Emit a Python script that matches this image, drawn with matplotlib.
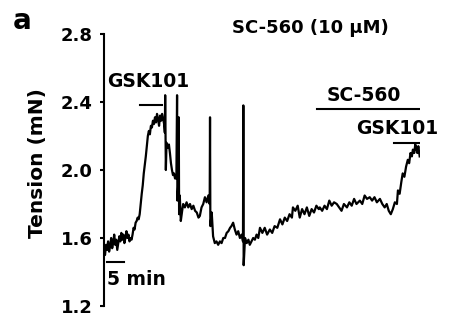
import matplotlib
matplotlib.use("Agg")
import matplotlib.pyplot as plt
import numpy as np

# time (min) and tension (mN)
time_min = [
    0.0, 0.3, 0.6, 0.9, 1.2, 1.5, 1.8, 2.1, 2.4, 2.7, 3.0, 3.3, 3.6, 3.9, 4.2,
    4.5, 4.8, 5.1, 5.4, 5.7, 6.0, 6.3, 6.6, 6.9, 7.2, 7.5, 7.8, 8.1, 8.4, 8.7,
    9.0, 9.3, 9.6, 9.9, 10.2, 10.5, 10.8, 11.1, 11.4, 11.7, 12.0, 12.3, 12.6,
    12.9, 13.2, 13.5, 13.8, 14.1, 14.4, 14.7, 15.0, 15.3, 15.6, 15.9, 16.2,
    16.5, 16.8, 17.1, 17.4, 17.7, 17.9, 18.0, 18.2, 18.4, 18.8, 19.1, 19.4,
    19.7, 20.0, 20.3, 20.6, 20.9, 21.3, 21.5, 21.6, 21.8, 22.0, 22.1, 22.3,
    22.6, 23.0, 23.3, 23.8, 24.3, 24.8, 25.3, 25.8, 26.3, 26.8, 27.3, 27.8,
    28.2, 28.7, 29.2, 29.7, 30.2, 30.7, 31.1, 31.2, 31.3, 31.7, 32.1, 32.6,
    33.1, 33.6, 34.1, 34.6, 35.1, 35.6, 36.1, 36.6, 37.1, 37.5, 38.0, 38.5,
    39.0, 39.5, 40.0, 40.5, 40.9, 41.0, 41.1, 41.5, 42.0, 42.5, 42.9, 43.4,
    43.9, 44.4, 44.9, 45.4, 45.9, 46.6, 47.3, 48.0, 48.8, 49.5, 50.2, 51.0,
    51.8, 52.5, 53.2, 53.9, 54.6, 55.3, 55.6, 56.3, 57.0, 57.6, 58.3, 59.0,
    59.7, 60.4, 61.1, 61.8, 62.5, 63.2, 63.5, 64.2, 64.9, 65.6, 66.3, 67.0,
    67.7, 68.5, 69.2, 69.9, 70.6, 71.5, 72.2, 72.9, 73.6, 74.3, 75.3, 76.0,
    76.7, 77.4, 78.2, 78.9, 79.6, 80.3, 81.2, 81.9, 82.6, 83.2, 83.8, 84.4,
    85.0, 85.6, 86.2, 86.5, 87.0, 87.5, 87.9, 88.4, 88.9, 89.4, 89.8, 90.2,
    90.6, 90.9, 91.3, 91.6, 91.9, 92.2, 92.5, 92.9,
]
tension_mN = [
    1.53, 1.50, 1.56, 1.53, 1.58, 1.52, 1.55, 1.60, 1.54, 1.57, 1.62, 1.56,
    1.59, 1.53, 1.57, 1.61, 1.58, 1.63, 1.59, 1.62, 1.57, 1.60, 1.64, 1.60,
    1.62, 1.58, 1.60, 1.59, 1.62, 1.66, 1.65, 1.69, 1.70, 1.72, 1.71, 1.74,
    1.80, 1.86, 1.91, 1.98, 2.03, 2.08, 2.14, 2.20, 2.23, 2.21, 2.26, 2.25,
    2.29, 2.27, 2.31, 2.28, 2.33, 2.30, 2.26, 2.32, 2.29, 2.33, 2.30, 2.27,
    2.22, 2.44, 2.00, 2.16, 2.13, 2.15, 2.10, 2.04, 2.00, 1.97, 1.98, 1.95,
    1.95, 2.44, 1.82, 1.90, 2.31, 1.74, 1.85, 1.70, 1.76, 1.80, 1.78, 1.81,
    1.78, 1.80, 1.77, 1.79, 1.76, 1.75, 1.72, 1.73, 1.78, 1.80, 1.84, 1.81,
    1.85, 1.80, 2.31, 1.67, 1.75, 1.61, 1.57, 1.58, 1.56, 1.58, 1.57, 1.60,
    1.60, 1.63, 1.64, 1.66, 1.67, 1.69, 1.65, 1.62, 1.64, 1.60, 1.62, 1.58,
    2.38, 1.44, 1.60, 1.57, 1.59, 1.56, 1.58, 1.60, 1.59, 1.62, 1.60, 1.66,
    1.63, 1.66, 1.62, 1.65, 1.63, 1.67, 1.66, 1.71, 1.68, 1.72, 1.70, 1.74,
    1.72, 1.78, 1.76, 1.79, 1.72, 1.77, 1.74, 1.78, 1.73, 1.77, 1.75, 1.79,
    1.77, 1.78, 1.76, 1.79, 1.77, 1.82, 1.79, 1.81, 1.80, 1.78, 1.76, 1.80,
    1.78, 1.81, 1.79, 1.83, 1.80, 1.82, 1.80, 1.85, 1.83, 1.84, 1.82, 1.84,
    1.81, 1.83, 1.80, 1.78, 1.80, 1.76, 1.74, 1.77, 1.81, 1.80, 1.88, 1.86,
    1.93, 1.98, 1.96, 2.02, 2.06, 2.04, 2.10, 2.08, 2.12, 2.10, 2.15, 2.13,
    2.10, 2.14, 2.08,
]

yticks = [1.2, 1.6, 2.0, 2.4, 2.8]
# drug application bars: (label, start, end, bar level)
bars = [
    ("GSK101", 10.6, 17.1, 2.383),
    ("SC-560", 62.6, 92.6, 2.359),
    ("GSK101", 85.3, 92.6, 2.159),
]
scale_min = 5

plt.rcParams['font.family'] = ['DejaVu Sans']
plt.rcParams['font.weight'] = 'bold'

fig = plt.figure(figsize=(4.53, 3.32), dpi=100)
ax = fig.add_axes([0.2296, 0.0783, 0.6976, 0.8193])

ax.plot(time_min, tension_mN, color='black', lw=1.6)

ax.set_xlim(0, 93)
ax.set_ylim(1.2, 2.8)
ax.set_yticks(yticks)
ax.set_yticklabels(["%.1f" % v for v in yticks], fontsize=13, fontweight='bold')
ax.tick_params(axis='y', length=3, width=1.5, pad=5)
ax.set_xticks([])
for s in ['top', 'right', 'bottom']:
    ax.spines[s].set_visible(False)
ax.spines['left'].set_linewidth(1.5)

ax.set_ylabel("Tension (mN)", fontsize=14.5, fontweight='bold')
ax.yaxis.set_label_coords(-0.18, 0.526)

# annotation bars
ax.plot([bars[0][1], bars[0][2]], [bars[0][3]] * 2, color='black', lw=1.5)
ax.text(13.0, 2.52, bars[0][0], ha='center', va='center', fontsize=13.5, fontweight='bold')
ax.plot([bars[1][1], bars[1][2]], [bars[1][3]] * 2, color='black', lw=1.5)
ax.text(76.5, 2.44, bars[1][0], ha='center', va='center', fontsize=13.5, fontweight='bold')
ax.plot([bars[2][1], bars[2][2]], [bars[2][3]] * 2, color='black', lw=1.5)
ax.text(86.2, 2.247, bars[2][0], ha='center', va='center', fontsize=13.5, fontweight='bold')

# time scale bar
ax.plot([0.9, 0.9 + scale_min], [1.46, 1.46], color='black', lw=1.5)
ax.text(0.9, 1.354, "%d min" % scale_min, ha='left', va='center', fontsize=13.5, fontweight='bold')

ax.text(60.6, 2.835, "SC-560 (10 µM)", ha='center', va='center', fontsize=13,
        fontweight='bold', clip_on=False)
fig.text(22 / 453, 1 - 21 / 332, "a", ha='center', va='center', fontsize=20, fontweight='bold')

fig.savefig("out.png", dpi=100)
